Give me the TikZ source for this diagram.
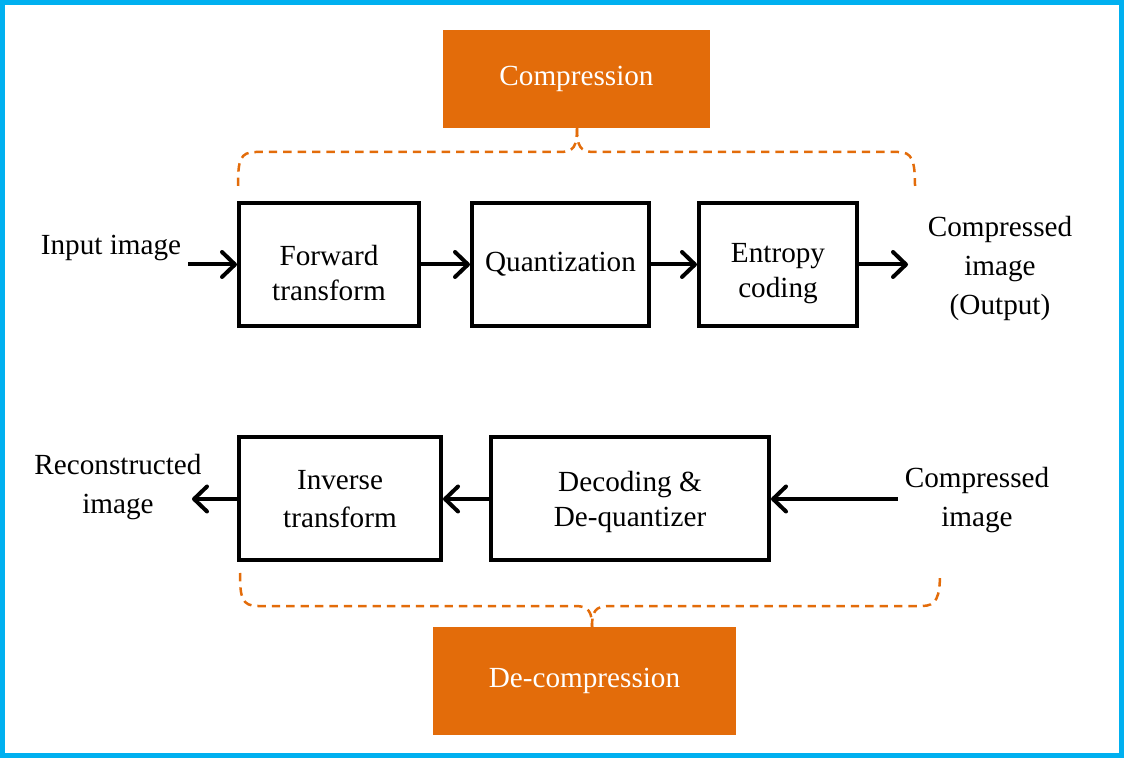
\documentclass[tikz,border=0pt]{standalone}
\usepackage{fontspec}
\setmainfont{Liberation Serif}
\usetikzlibrary{arrows.meta,positioning}
\definecolor{frameblue}{HTML}{00B0F0}
\definecolor{stageorange}{HTML}{E36C0A}

\begin{document}
\begin{tikzpicture}[
  x=0.5pt, y=-0.5pt,
  every node/.style={font=\fontsize{14.6}{19.5}\selectfont},
  box/.style={draw, line width=2pt, minimum height=61.5pt, align=center, inner sep=2pt,
    font=\fontsize{14.6}{17.8}\selectfont},
  lowtext/.style={text height=36.6pt},
  stage/.style={fill=stageorange, text=white, align=center},
  label/.style={align=center},
  arrow/.style={-{Straight Barb[round, length=6.5pt, width=12.5pt]}, line width=2pt},
  brace/.style={stageorange, line width=1.25pt, dash pattern=on 4.2pt off 3pt}
]
  \useasboundingbox (0,0) rectangle (1124,758);
  \draw[frameblue, line width=2.5pt] (2.5,2.5) rectangle (1121.5,755.5);

  \node[stage, minimum width=133.5pt, minimum height=49pt] (comp) at (576.5,79) {Compression};
  \node[stage, minimum width=151.5pt, minimum height=54pt] (decomp) at (584.5,681) {De-compression};

  \node[box, lowtext, minimum width=90pt] (fwd) at (329,264.5) {Forward\\transform};
  \node[box, minimum width=88.5pt, right=24.5pt of fwd] (quant) {Quantization};
  \node[box, lowtext, minimum width=79pt, right=23pt of quant] (ent) {Entropy\\coding};

  \node[box, font=\fontsize{14.6}{19}\selectfont, minimum width=101pt] (inv) at (340,499) {Inverse\\transform};
  \node[box, text height=31pt, minimum width=139pt, right=23pt of inv] (dec) {Decoding \&\\De-quantizer};

  \node[label] (inp) at (111,248) {Input image};
  \node[label] (cout) at (1000,268) {Compressed\\image\\(Output)};
  \node[label] (rec) at (118,487) {Reconstructed\\image};
  \node[label] (cin) at (977,500) {Compressed\\image};

  \coordinate (inend) at (188,264.5);
  \coordinate (outend) at (908,264.5);
  \coordinate (recend) at (192,499);

  \draw[arrow] (inend) -- (fwd);
  \draw[arrow] (fwd) -- (quant);
  \draw[arrow] (quant) -- (ent);
  \draw[arrow] (ent) -- (outend);
  \draw[arrow] (cin.west |- dec) -- (dec);
  \draw[arrow] (dec) -- (inv);
  \draw[arrow] (inv) -- (recend);

  \draw[brace] (238,186) .. controls (238,160) and (240,152) .. (256,152) -- (560,152)
    .. controls (574,152) and (577,146) .. (577,128);
  \draw[brace] (577,128) .. controls (577,146) and (580,152) .. (594,152) -- (898,152)
    .. controls (912,152) and (915,160) .. (915,186);

  \draw[brace] (240,573) .. controls (240,598) and (242,606) .. (258,606) -- (575,606)
    .. controls (589,606) and (592,612) .. (592,627);
  \draw[brace] (592,627) .. controls (592,612) and (595,606) .. (609,606) -- (922,606)
    .. controls (936,606) and (940,598) .. (940,573);
\end{tikzpicture}
\end{document}
